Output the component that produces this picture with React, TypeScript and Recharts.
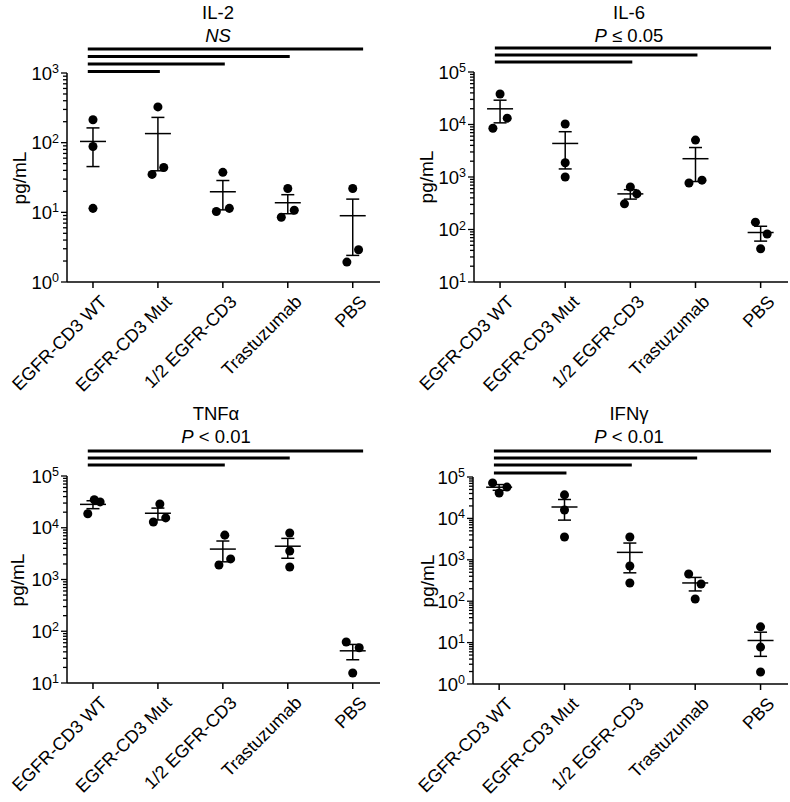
import React from "react";
import { ScatterChart, Scatter, XAxis, YAxis, ErrorBar, ReferenceLine } from "recharts";

// Citocinas no sobrenadante (pg/mL), 3 réplicas por grupo, média ± EPM.
const groups = ["EGFR-CD3 WT", "EGFR-CD3 Mut", "1/2 EGFR-CD3", "Trastuzumab", "PBS"];

const il2Values = [[213, 88, 11.4], [326, 35, 44], [37.5, 10.3, 11.4], [22, 8.5, 10.7], [22, 1.93, 2.9]];
const il6Values = [[38000, 8500, 13200], [10200, 1870, 1000], [645, 308, 477], [5050, 770, 870], [138, 82, 43]];
const tnfValues = [[34700, 31600, 18600], [28800, 12900, 15500], [7200, 1910, 2500], [7900, 3560, 1740], [62, 48, 15.6]];
const ifnValues = [[72000, 41000, 57000], [37000, 16000, 3550], [3550, 710, 275], [455, 260, 113], [24, 7.8, 1.95]];

// deslocamento horizontal de cada ponto (em unidades de grupo)
const il2Jitter = [[0, 0, 0], [0, -0.09, 0.09], [0, -0.1, 0.1], [0, -0.1, 0.1], [0, -0.09, 0.09]];
const il6Jitter = [[0, -0.11, 0.11], [0, 0, 0], [0, -0.09, 0.1], [0, -0.1, 0.1], [-0.08, 0.1, 0]];
const tnfJitter = [[0.02, 0.11, -0.08], [0.03, -0.07, 0.12], [0.03, -0.06, 0.12], [0.03, 0.03, 0.03], [-0.1, 0.1, 0]];
const ifnJitter = [[-0.1, 0, 0.12], [0, 0, 0], [0, 0, 0], [-0.1, 0.09, 0], [0, 0, 0]];

// expoentes das décadas do eixo y
const il2Decades = [0, 1, 2, 3];
const il6Decades = [1, 2, 3, 4, 5];
const tnfDecades = [1, 2, 3, 4, 5];
const ifnDecades = [0, 1, 2, 3, 4, 5];

// barras de comparação: grupo 0 contra estes grupos
const il2Compared = [1, 2, 3, 4];
const il6Compared = [2, 3, 4];
const tnfCompared = [2, 3, 4];
const ifnCompared = [1, 2, 3, 4];

const FONT = "Arial, 'Liberation Sans', Helvetica, sans-serif";
const W = 395;
const H = 401;

type PanelDef = {
  title: string;
  stat: React.ReactNode;
  values: number[][];
  jitter: number[][];
  decades: number[];
  compared: number[];
  x: number;
  y: number;
  top: number;
  right: number;
  yWidth: number;
  xHeight: number;
  barPx: number[];   // distância (px) de cada barra acima do topo do eixo
  titleX: number;
  labelX: number;
};

function GroupTick(props: any) {
  const { x, y, payload } = props;
  return (
    <g transform={`translate(${x},${y})`}>
      <line x1={0} x2={0} y1={0} y2={6} stroke="#000" strokeWidth={1.5} />
      <text transform="translate(15,21) rotate(-45)" textAnchor="end" fontSize={18}
        fontFamily={FONT} fill="#000">{groups[payload.value]}</text>
    </g>
  );
}

function LogTick(props: any) {
  const { x, y, payload } = props;
  const e = Math.log10(payload.value);
  const major = Math.abs(e - Math.round(e)) < 1e-9;
  return (
    <g>
      <line x1={x} x2={x - (major ? 6 : 4)} y1={y} y2={y} stroke="#000" strokeWidth={1.3} />
      {major && (
        <text x={x - 8} y={y + 6.5} textAnchor="end" fontSize={18.5} fontFamily={FONT} fill="#000">
          10<tspan dy={-6.5} fontSize={12.5}>{Math.round(e)}</tspan>
        </text>
      )}
    </g>
  );
}

function MeanLine(props: any) {
  const { cx, cy } = props;
  return <line x1={cx - 13} x2={cx + 13} y1={cy} y2={cy} stroke="#000" strokeWidth={1.5} />;
}

function CytokinePanel({ p }: { p: PanelDef }) {
  const points = p.values.flatMap((reps, g) => reps.map((v, k) => ({ x: g + p.jitter[g][k], y: v })));
  const means = p.values.map((reps, g) => {
    const m = reps.reduce((a, b) => a + b, 0) / reps.length;
    const sd = Math.sqrt(reps.reduce((a, b) => a + (b - m) ** 2, 0) / (reps.length - 1));
    return { x: g, y: m, sem: sd / Math.sqrt(reps.length) };
  });
  const lo = p.decades[0];
  const hi = p.decades[p.decades.length - 1];
  const ticks: number[] = [];
  p.decades.forEach((d, i) => {
    ticks.push(10 ** d);
    if (i < p.decades.length - 1) for (let k = 2; k <= 9; k++) ticks.push(k * 10 ** d);
  });
  const plotH = H - p.top - p.xHeight;
  const decadePx = plotH / (hi - lo);
  const axisStyle = { stroke: "#000", strokeWidth: 1.5 };

  return (
    <div style={{ position: "absolute", left: p.x, top: p.y, width: W, height: H }}>
      <div style={{
        position: "absolute", left: p.titleX - 100, top: 0.5, width: 200, textAlign: "center",
        fontFamily: FONT, fontSize: 18.5, lineHeight: "23.5px", color: "#000",
      }}>
        <div>{p.title}</div>
        <div>{p.stat}</div>
      </div>
      <div style={{
        position: "absolute", left: p.labelX, top: p.top + plotH / 2,
        transform: "translate(-50%, -50%) rotate(-90deg)", fontFamily: FONT, fontSize: 19,
        whiteSpace: "nowrap", color: "#000",
      }}>pg/mL</div>
      <ScatterChart width={W} height={H} margin={{ top: p.top, right: p.right, bottom: 0, left: 0 }}>
        <XAxis type="number" dataKey="x" domain={[-0.4, 4.42]} ticks={[0, 1, 2, 3, 4]} interval={0}
          tick={(t: any) => <GroupTick {...t} />} tickSize={0} tickMargin={0} tickLine={false}
          height={p.xHeight} axisLine={axisStyle} allowDataOverflow />
        <YAxis type="number" dataKey="y" scale="log" domain={[10 ** lo, 10 ** hi]} ticks={ticks} interval={0}
          tick={(t: any) => <LogTick {...t} />} tickSize={0} tickMargin={0} tickLine={false}
          width={p.yWidth} axisLine={axisStyle} allowDataOverflow />
        {p.compared.map((g, i) => {
          const yv = 10 ** (hi + p.barPx[i] / decadePx);
          const end = g === 4 ? 4.16 : g + 0.03;
          return (
            <ReferenceLine key={g} segment={[{ x: -0.08, y: yv }, { x: end, y: yv }]}
              stroke="#000" strokeWidth={3} ifOverflow="visible" />
          );
        })}
        <Scatter data={points} fill="#000" isAnimationActive={false} />
        <Scatter data={means} shape={(s: any) => <MeanLine {...s} />} isAnimationActive={false}>
          <ErrorBar dataKey="sem" direction="y" width={6.5} stroke="#000" strokeWidth={1.5} />
        </Scatter>
      </ScatterChart>
    </div>
  );
}

const panels: PanelDef[] = [
  {
    title: "IL-2", stat: <i>NS</i>, values: il2Values, jitter: il2Jitter, decades: il2Decades,
    compared: il2Compared, x: 0, y: 0, top: 73, right: 15, yWidth: 67, xHeight: 119,
    barPx: [1.5, 9, 16.5, 24], titleX: 218, labelX: 20,
  },
  {
    title: "IL-6", stat: <span><i>P</i> ≤ 0.05</span>, values: il6Values, jitter: il6Jitter,
    decades: il6Decades, compared: il6Compared, x: 395, y: 0, top: 72, right: 2, yWidth: 79,
    xHeight: 119, barPx: [10, 17, 24], titleX: 234, labelX: 32,
  },
  {
    title: "TNFα", stat: <span><i>P</i> &lt; 0.01</span>, values: tnfValues, jitter: tnfJitter,
    decades: tnfDecades, compared: tnfCompared, x: 0, y: 401, top: 75, right: 15, yWidth: 67,
    xHeight: 119, barPx: [11, 18, 25], titleX: 216, labelX: 18,
  },
  {
    title: "IFNγ", stat: <span><i>P</i> &lt; 0.01</span>, values: ifnValues, jitter: ifnJitter,
    decades: ifnDecades, compared: ifnCompared, x: 395, y: 401, top: 76, right: 2, yWidth: 78,
    xHeight: 118, barPx: [4, 12, 19, 26], titleX: 234, labelX: 33,
  },
];

export default function App() {
  return (
    <div style={{ position: "absolute", left: 0, top: 0, width: 790, height: 802, background: "#fff" }}>
      {panels.map(p => <CytokinePanel key={p.title} p={p} />)}
    </div>
  );
}
